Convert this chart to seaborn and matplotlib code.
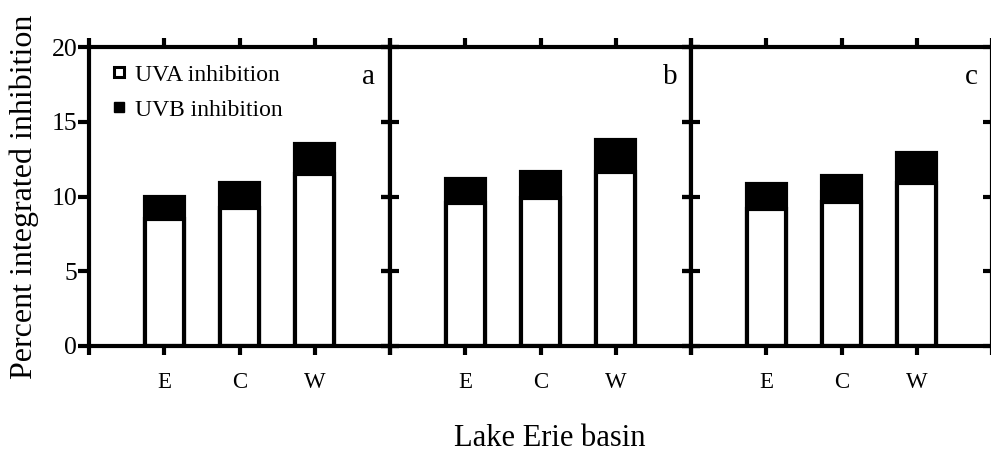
# Stacked UVA / UVB inhibition bars for three panels
import matplotlib
matplotlib.use('Agg')
import matplotlib.pyplot as plt
from matplotlib.lines import Line2D
from matplotlib import markers
import seaborn as sns
import pandas as pd

basins = ['E', 'C', 'W']
panels = ['a', 'b', 'c']
uva_a = [8.5, 9.2, 11.5]
uva_b = [9.55, 9.9, 11.65]
uva_c = [9.15, 9.65, 10.9]
total_a = [10.0, 10.9, 13.5]
total_b = [11.2, 11.65, 13.8]
total_c = [10.85, 11.4, 12.9]
yticks = [0, 5, 10, 15, 20]

uva = [uva_a, uva_b, uva_c]
total = [total_a, total_b, total_c]

sns.set_theme(style='white')
plt.rcParams['font.family'] = ['Liberation Serif', 'DejaVu Serif']
plt.rcParams['text.color'] = 'black'
plt.rcParams['axes.labelcolor'] = 'black'
plt.rcParams['xtick.labelcolor'] = 'black'
plt.rcParams['ytick.labelcolor'] = 'black'

fig = plt.figure(figsize=(9.91, 4.51), dpi=100)
W, H = 991, 451
lefts = [89, 390, 691]
pw = 301
bottom_px, top_px = 346, 47

lw = 3
for i, p in enumerate(panels):
    ax = fig.add_axes([lefts[i] / W, (H - bottom_px) / H, pw / W, (bottom_px - top_px) / H])
    df = pd.DataFrame({'basin': basins, 'uva': uva[i], 'total': total[i]})
    # total bar in black, UVA part drawn white over it
    sns.barplot(data=df, x='basin', y='total', order=basins, color='black',
                edgecolor='black', linewidth=lw, width=0.52, saturation=1, ax=ax)
    sns.barplot(data=df, x='basin', y='uva', order=basins, color='white',
                edgecolor='black', linewidth=lw, width=0.52, saturation=1, ax=ax)
    ax.set_xlim(-1, 3)
    ax.set_ylim(0, 20)
    for s in ax.spines.values():
        s.set_visible(True)
        s.set_linewidth(lw)
        s.set_color('black')
    ax.set_xticks([-1, 0, 1, 2, 3])
    ax.set_xticklabels(['', 'E', 'C', 'W', ''])
    ax.set_yticks(yticks)
    ax.set_xlabel('')
    ax.set_ylabel('')
    ax.tick_params(axis='x', which='both', bottom=True, top=True, direction='out',
                   length=6.5, width=lw, color='black', labelcolor='black',
                   labelsize=16.5, pad=12)
    ax.tick_params(axis='y', left=True, right=True, direction='inout', length=13,
                   width=lw, color='black', labelcolor='black', labelleft=(i == 0),
                   labelright=False, labelsize=18.5, pad=2)
    if i == 0:
        ax.set_yticklabels([str(t) for t in yticks])
        # left ticks of the first panel point outward only
        for t in ax.yaxis.get_major_ticks():
            t.tick1line.set_marker(markers.TICKLEFT)
            t.tick1line.set_markersize(8)
    ax.text(0.93, 0.90, p, transform=ax.transAxes, fontsize=21, color='black',
            ha='center', va='center')
    if i == 0:
        handles = [
            Line2D([], [], marker='s', linestyle='none', markersize=7,
                   markerfacecolor='white', markeredgecolor='black', markeredgewidth=2.2),
            Line2D([], [], marker='s', linestyle='none', markersize=6.5,
                   markerfacecolor='black', markeredgecolor='black'),
        ]
        leg = ax.legend(handles, ['UVA inhibition', 'UVB inhibition'], loc='upper left',
                        bbox_to_anchor=(0.03, 0.99), frameon=False, fontsize=17,
                        handlelength=0.6, handletextpad=0.35, labelspacing=0.57,
                        borderaxespad=0.2, labelcolor='black')
        ax.set_ylabel('Percent integrated inhibition', fontsize=23, labelpad=9,
                      color='black')

fig.text(550 / W, 1 - 438 / H, 'Lake Erie basin', fontsize=22, color='black',
         ha='center', va='center')

fig.savefig('out.png', dpi=100)
